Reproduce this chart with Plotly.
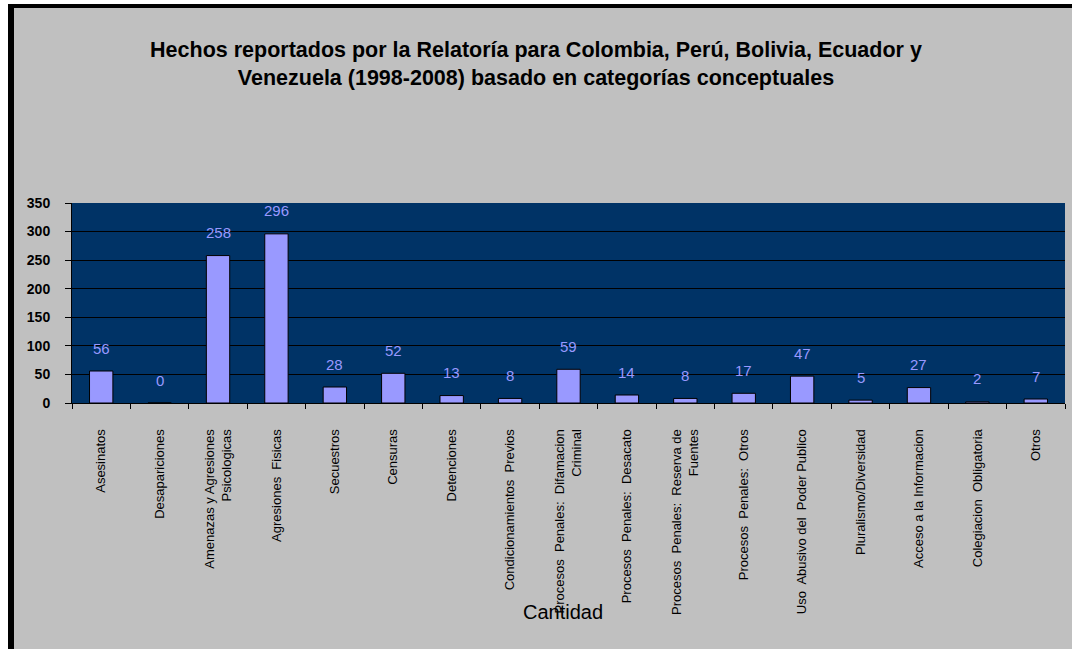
import plotly.graph_objects as go

categories = [
    "Asesinatos",
    "Desapariciones",
    "Amenazas y Agresiones<br>Psicologicas",
    "Agresiones  Fisicas",
    "Secuestros",
    "Censuras",
    "Detenciones",
    "Condicionamientos  Previos",
    "Procesos  Penales:  Difamacion<br>Criminal",
    "Procesos  Penales:  Desacato",
    "Procesos  Penales:  Reserva de<br>Fuentes",
    "Procesos  Penales:  Otros",
    "Uso  Abusivo del  Poder Publico",
    "Pluralismo/Diversidad",
    "Acceso a la Informacion",
    "Colegiacion  Obligatoria",
    "Otros",
]
values = [56, 0, 258, 296, 28, 52, 13, 8, 59, 14, 8, 17, 47, 5, 27, 2, 7]
y_ticks = [0, 50, 100, 150, 200, 250, 300, 350]

title_text = (
    "Hechos reportados por la Relatoría para Colombia, Perú, Bolivia, Ecuador y<br>"
    "Venezuela (1998-2008) basado en categorías conceptuales"
)

SANS = "Liberation Sans, Arial, sans-serif"
GREY = "#C0C0C0"

W, H = 1072, 649
ML, MR, MT, MB = 72, 7, 203, 246
PH = H - MT - MB


def py(px_from_top):
    # pixel from top of figure -> paper y
    return (H - px_from_top - MB) / PH


def px(px_from_left):
    return (px_from_left - ML) / (W - ML - MR)


fig = go.Figure()
fig.add_trace(
    go.Bar(
        x=categories,
        y=values,
        marker=dict(color="#9999FF", line=dict(color="black", width=1)),
        hoverinfo="x+y",
        showlegend=False,
    )
)

# data labels sit well above the bar top, like the original
for cat, val in zip(categories, values):
    fig.add_annotation(
        x=cat, y=val, xref="x", yref="y",
        text=str(val), showarrow=False,
        yshift=23, yanchor="middle",
        font=dict(family=SANS, size=15, color="#9999FF"),
    )

fig.add_annotation(
    x=px(563), y=py(612), xref="paper", yref="paper",
    text="Cantidad", showarrow=False,
    xanchor="center", yanchor="middle",
    font=dict(family=SANS, size=20, color="black"),
)

# frame strips of the original picture
shapes = [
    dict(type="rect", xref="paper", yref="paper", x0=px(0), x1=px(W), y0=py(4), y1=py(0),
         fillcolor="white", line_width=0, layer="above"),
    dict(type="rect", xref="paper", yref="paper", x0=px(8), x1=px(W), y0=py(8), y1=py(4),
         fillcolor="black", line_width=0, layer="above"),
    dict(type="rect", xref="paper", yref="paper", x0=px(0), x1=px(8), y0=py(H), y1=py(0),
         fillcolor="white", line_width=0, layer="above"),
    dict(type="rect", xref="paper", yref="paper", x0=px(8), x1=px(14), y0=py(H), y1=py(4),
         fillcolor="black", line_width=0, layer="above"),
]

fig.update_layout(
    width=W,
    height=H,
    margin=dict(l=ML, r=MR, t=MT, b=MB),
    paper_bgcolor=GREY,
    plot_bgcolor="#003366",
    bargap=0.6,
    shapes=shapes,
    title=dict(
        text=title_text,
        x=0.5, xanchor="center",
        y=1 - 57 / H, yanchor="middle",
        font=dict(family=SANS, size=21.5, color="black", weight="bold"),
    ),
    xaxis=dict(
        type="category",
        tickangle=-90,
        tickson="boundaries",
        ticks="outside",
        ticklen=5,
        tickcolor="black",
        showline=True,
        linecolor="black",
        linewidth=1,
        showgrid=False,
        ticklabelstandoff=20,
        tickfont=dict(family=SANS, size=13, color="black"),
    ),
    yaxis=dict(
        range=[0, 350],
        tickvals=y_ticks,
        ticks="outside",
        ticklen=6,
        tickcolor="black",
        showline=True,
        linecolor="black",
        linewidth=1,
        gridcolor="black",
        gridwidth=1,
        zeroline=False,
        ticklabelstandoff=12,
        tickfont=dict(family=SANS, size=14, color="black", weight="bold"),
    ),
)

fig.write_html(
    "out.html",
    config={"displayModeBar": False},
    post_script="document.body.style.margin='0';",
)
